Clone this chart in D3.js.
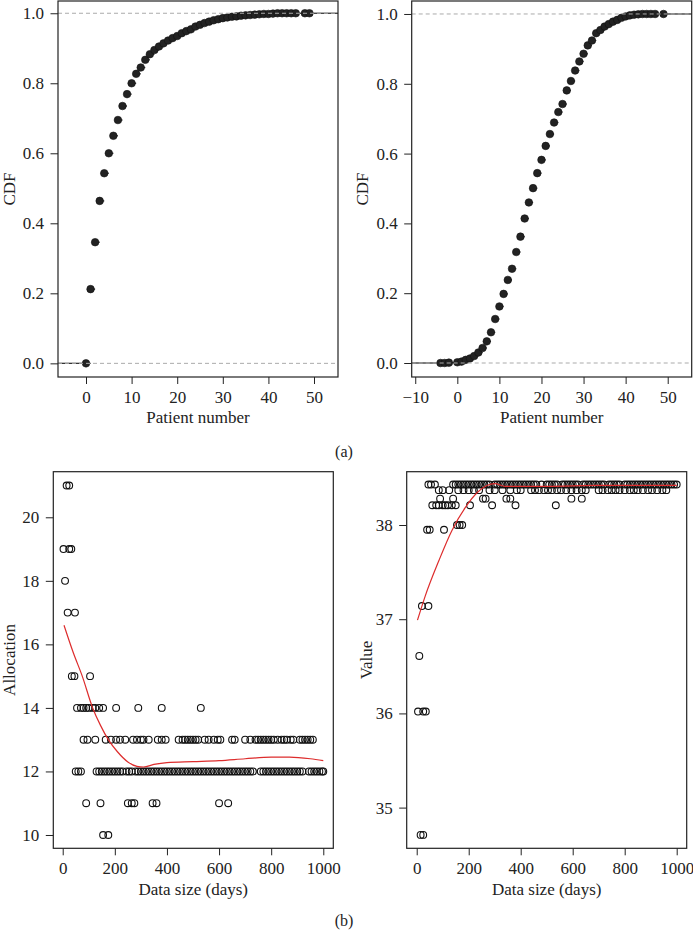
<!DOCTYPE html>
<html><head><meta charset="utf-8">
<script src="https://cdn.jsdelivr.net/npm/d3@7"></script>
<style>
html,body{margin:0;padding:0;background:#fff;}
text{font-family:"Liberation Serif","DejaVu Serif",serif;fill:#222;}
</style></head>
<body>
<script>
// ---------- DATA ----------
// (a) left: empirical CDF
const cdfLeftX = [0,1,2,3,4,5,6,7,8,9,10,11,12,13,14,15,16,17,18,19,20,21,22,23,24,25,26,27,28,29,30,31,32,33,34,35,36,37,38,39,40,41,42,43,44,45,46,48,49];
const cdfLeftY = [0,0.212,0.346,0.464,0.543,0.600,0.650,0.695,0.735,0.769,0.800,0.827,0.845,0.867,0.883,0.895,0.905,0.914,0.922,0.929,0.935,0.943,0.949,0.954,0.962,0.967,0.972,0.976,0.980,0.983,0.986,0.988,0.990,0.991,0.993,0.994,0.995,0.996,0.997,0.998,0.998,0.999,1,1,1,1,1,1,1];
// (a) right: empirical CDF
const cdfRightX = [-4,-3,-2,0,1,2,3,4,5,6,7,8,9,10,11,12,13,14,15,16,17,18,19,20,21,22,23,24,25,26,27,28,29,30,31,32,33,34,35,36,37,38,39,40,41,42,43,44,45,46,47,49];
const cdfRightY = [0,0,0.001,0.002,0.004,0.009,0.013,0.02,0.03,0.043,0.062,0.088,0.126,0.162,0.198,0.238,0.270,0.318,0.362,0.414,0.460,0.501,0.544,0.582,0.622,0.656,0.689,0.719,0.742,0.781,0.808,0.838,0.864,0.886,0.910,0.924,0.945,0.954,0.964,0.971,0.978,0.983,0.989,0.993,0.996,0.998,0.999,1,1,1,1,1];
const cdfXTicks = [0,10,20,30,40,50];
const cdfXTicksRight = [-10,0,10,20,30,40,50];
const cdfYTicks = [0,0.2,0.4,0.6,0.8,1.0];

// (b) left: allocation vs data size, listed by allocation level
const alloc21 = [15,25];
const alloc19 = [3,25,33];
const alloc18 = [9];
const alloc17 = [19,47];
const alloc15 = [35,45,105];
const alloc14 = [55,70,80,90,100,115,125,140,155,205,290,380,530];
const alloc13 = [80,95,125,165,185,205,220,240,270,285,300,310,330,365,380,395,445,460,470,480,490,500,510,520,545,560,580,595,605,650,660,700,720,740,750,760,770,780,790,800,810,825,840,850,860,875,885,910,920,930,940,950,960];
const alloc12 = [50,60,70,130,140,150,160,170,180,190,200,210,220,230,245,255,265,280,290,300,310,320,330,340,350,360,370,380,390,400,410,420,430,440,450,460,470,480,490,500,510,520,530,540,550,560,570,580,590,600,610,620,630,640,650,660,670,680,690,700,710,720,730,760,770,780,790,800,810,820,830,840,850,860,870,880,890,900,910,920,945,955,965,975,985,995,1000];
const alloc11 = [90,145,250,265,275,345,360,600,635];
const alloc10 = [155,175];
const allocSmoothX = [5,40,75,115,145,175,210,250,285,310,350,400,500,600,700,800,870,950,1000];
const allocSmoothY = [16.6,15.75,15.0,14.0,13.45,13.0,12.62,12.3,12.16,12.14,12.22,12.28,12.31,12.34,12.40,12.45,12.45,12.40,12.34];
const allocYTicks = [10,12,14,16,18,20];
const daysTicks = [0,200,400,600,800,1000];

// (b) right: value vs data size, listed by value level
const val3843 = [45,55,70,140,150,160,170,180,190,200,210,220,230,240,250,260,270,280,300,310,320,330,340,350,360,370,380,390,400,410,420,430,440,450,460,480,500,510,520,530,540,560,570,580,590,600,610,620,640,650,660,670,680,690,700,710,720,740,750,760,770,780,800,810,820,830,840,850,860,870,880,890,900,910,920,930,940,950,960,970,980,990,1000];
const val3837 = [85,100,125,160,180,200,220,240,280,300,330,360,385,400,440,455,470,490,505,520,540,555,575,595,615,635,650,700,715,735,750,765,780,800,820,835,850,870,890,905,925,945,960];
const val3828 = [90,140,255,265,345,360,595,635];
const val3821 = [60,75,85,100,110,120,135,150,205,290,380,535];
const val3800 = [155,165,175];
const val3795 = [40,50,105];
const val3714 = [20,45];
const val3661 = [10];
const val3602 = [5,25,35];
const val3471 = [15,25];
const valSmoothX = [3,32,85,135,188,235,270,300,340,400,500,700,900,1000];
const valSmoothY = [36.99,37.24,37.62,37.94,38.19,38.35,38.42,38.44,38.41,38.41,38.41,38.42,38.42,38.42];
const valYTicks = [35,36,37,38];

// ---------- DRAW ----------
const W = 693, H = 931;
const svg = d3.select("body").append("svg").attr("width", W).attr("height", H);
const FS = 17;

function panel(o) {
  const x = d3.scaleLinear().domain(o.xd).range([o.x0, o.x1]);
  const y = d3.scaleLinear().domain(o.yd).range([o.y1, o.y0]);
  const g = svg.append("g");
  const xa = g.append("g").attr("transform", `translate(0,${o.y1})`)
    .call(d3.axisBottom(x).tickValues(o.xt).tickSize(7).tickPadding(6.5)
      .tickFormat(d => d < 0 ? "\u2212" + Math.abs(d) : String(d)));
  const ya = g.append("g").attr("transform", `translate(${o.x0},0)`)
    .call(d3.axisLeft(y).tickValues(o.yt).tickSize(7.5).tickPadding(6.5)
      .tickFormat(o.yf || (d => String(d))));
  [xa, ya].forEach(a => {
    a.select(".domain").remove();
    a.selectAll("line").attr("stroke", "#222").attr("stroke-width", 1);
    a.selectAll("text").attr("font-size", FS).style("font-family", '"Liberation Serif","DejaVu Serif",serif').attr("fill", "#222");
  });
  g.append("text").attr("x", (o.x0 + o.x1) / 2).attr("y", o.xtY)
    .attr("text-anchor", "middle").attr("font-size", FS).text(o.xtitle);
  g.append("text").attr("transform", `translate(${o.ytX},${(o.y0 + o.y1) / 2}) rotate(-90)`)
    .attr("text-anchor", "middle").attr("font-size", FS).text(o.ytitle);
  return {g, x, y, o};
}
function box(p) {
  const o = p.o;
  p.g.append("rect").attr("x", o.x0).attr("y", o.y0).attr("width", o.x1 - o.x0).attr("height", o.y1 - o.y0)
    .attr("fill", "none").attr("stroke", "#222").attr("stroke-width", 1.2);
}

function cdfPanel(p, xs, ys) {
  const {g, x, y, o} = p;
  const pts = xs.map((v, i) => ({x: v, y: ys[i]}));
  const segs = [];
  segs.push({x1: o.xd[0], x2: pts[0].x, y: 0});
  for (let i = 0; i < pts.length - 1; i++) segs.push({x1: pts[i].x, x2: pts[i + 1].x, y: pts[i].y});
  segs.push({x1: pts[pts.length - 1].x, x2: o.xd[1], y: 1});
  g.selectAll(".seg").data(segs).enter().append("line")
    .attr("x1", d => x(d.x1)).attr("x2", d => x(d.x2)).attr("y1", d => y(d.y)).attr("y2", d => y(d.y))
    .attr("stroke", "#333").attr("stroke-width", 1.3);
  g.selectAll(".pt").data(pts).enter().append("circle")
    .attr("cx", d => x(d.x)).attr("cy", d => y(d.y)).attr("r", 3.8)
    .attr("fill", "#222").attr("stroke", "#111").attr("stroke-width", 0.6);
  [0, 1].forEach(h => g.append("line").attr("x1", o.x0).attr("x2", o.x1)
    .attr("y1", y(h)).attr("y2", y(h)).attr("stroke", "#aaa").attr("stroke-width", 1)
    .attr("stroke-dasharray", "4,3"));
}

function scatterPanel(p, rows, sx, sy) {
  const {g, x, y} = p;
  const pts = [];
  rows.forEach(([lvl, arr]) => arr.forEach(d => pts.push({x: d, y: lvl})));
  g.selectAll(".pt").data(pts).enter().append("circle")
    .attr("cx", d => x(d.x)).attr("cy", d => y(d.y)).attr("r", 3.4)
    .attr("fill", "none").attr("stroke", "#111").attr("stroke-width", 1.1);
  const line = d3.line().x(d => x(d[0])).y(d => y(d[1])).curve(d3.curveMonotoneX);
  g.append("path").datum(sx.map((v, i) => [v, sy[i]])).attr("d", line)
    .attr("fill", "none").attr("stroke", "#dd2c2c").attr("stroke-width", 1.2);
}

const tl = panel({x0: 58, x1: 338, y0: 1, y1: 377, xd: [-6.14, 55.26], yd: [-0.039, 1.035],
  xt: cdfXTicks, yt: cdfYTicks, yf: d3.format(".1f"), xtitle: "Patient number", xtY: 423,
  ytitle: "CDF", ytX: 15});
cdfPanel(tl, cdfLeftX, cdfLeftY); box(tl);

const tr = panel({x0: 411.7, x1: 691.7, y0: 1, y1: 377, xd: [-10.84, 55.7], yd: [-0.0401, 1.0372],
  xt: cdfXTicksRight, yt: cdfYTicks, yf: d3.format(".1f"), xtitle: "Patient number", xtY: 423,
  ytitle: "CDF", ytX: 368});
cdfPanel(tr, cdfRightX, cdfRightY); box(tr);

const bl = panel({x0: 53.3, x1: 333.3, y0: 471.7, y1: 848.3, xd: [-36.1, 1038.4], yd: [9.581, 21.435],
  xt: daysTicks, yt: allocYTicks, xtitle: "Data size (days)", xtY: 895,
  ytitle: "Allocation", ytX: 15});
scatterPanel(bl, [[21, alloc21], [19, alloc19], [18, alloc18], [17, alloc17], [15, alloc15], [14, alloc14],
  [13, alloc13], [12, alloc12], [11, alloc11], [10, alloc10]], allocSmoothX, allocSmoothY); box(bl);

const br = panel({x0: 406.7, x1: 686.7, y0: 471.7, y1: 848.3, xd: [-38.5, 1038.5], yd: [34.568, 38.566],
  xt: daysTicks, yt: valYTicks, xtitle: "Data size (days)", xtY: 895,
  ytitle: "Value", ytX: 372});
scatterPanel(br, [[38.43, val3843], [38.37, val3837], [38.28, val3828], [38.21, val3821], [38.0, val3800],
  [37.95, val3795], [37.14, val3714], [36.61, val3661], [36.02, val3602], [34.71, val3471]], valSmoothX, valSmoothY); box(br);

svg.append("text").attr("x", 344).attr("y", 457).attr("text-anchor", "middle").attr("font-size", 16).text("(a)");
svg.append("text").attr("x", 344).attr("y", 926).attr("text-anchor", "middle").attr("font-size", 16).text("(b)");
</script>
</body></html>
